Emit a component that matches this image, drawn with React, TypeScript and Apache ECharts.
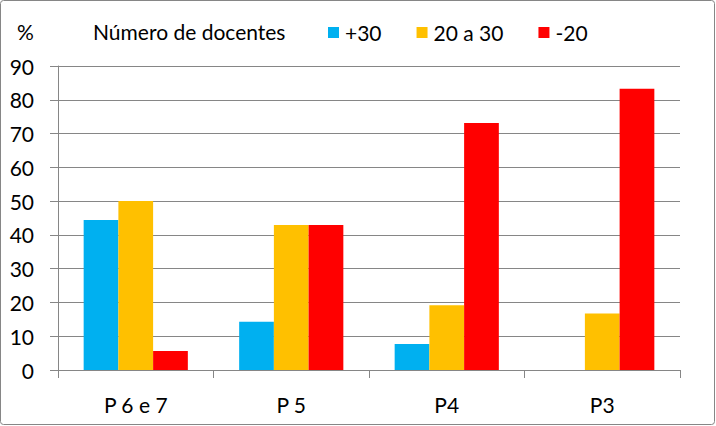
import React, { useEffect, useRef } from "react";
import * as echarts from "echarts";

const categories = ["P 6 e 7", "P 5", "P4", "P3"];
const seriesNames = ["+30", "20 a 30", "-20"];
const valuesPlus30 = [44.4, 14.3, 7.7, 0];
const values20a30 = [50.0, 42.9, 19.2, 16.7];
const valuesMinus20 = [5.6, 42.9, 73.1, 83.3];
const seriesColors = ["#00B0F0", "#FFC000", "#FF0000"];
const yTicks = { min: 0, max: 90, interval: 10 };

const FONT = "Lato, 'Noto Sans', sans-serif";
const GRAY = "#868686";
const FS = 21;

export default function App() {
  const ref = useRef<HTMLDivElement>(null);
  useEffect(() => {
    document.body.style.margin = "0";
    const chart = echarts.init(ref.current!, null, { renderer: "svg" });
    const data = [valuesPlus30, values20a30, valuesMinus20];
    chart.setOption({
      animation: false,
      backgroundColor: "#ffffff",
      textStyle: { fontFamily: FONT },
      grid: { left: 58, right: 36, top: 66, bottom: 56, containLabel: false },
      legend: {
        left: 328,
        top: 22,
        padding: 0,
        itemWidth: 11,
        itemHeight: 11,
        itemGap: 35,
        icon: "rect",
        data: seriesNames,
        textStyle: { fontSize: FS, color: "#000", fontFamily: FONT, padding: [0, 0, 0, 1] },
      },
      xAxis: {
        type: "category",
        data: categories,
        axisLine: { show: true, lineStyle: { color: GRAY, width: 1 } },
        axisTick: { show: true, length: 8, alignWithLabel: false, lineStyle: { color: GRAY } },
        axisLabel: { fontSize: FS, color: "#000", margin: 24, fontFamily: FONT },
      },
      yAxis: {
        type: "value",
        min: yTicks.min,
        max: yTicks.max,
        interval: yTicks.interval,
        axisLine: { show: true, lineStyle: { color: GRAY, width: 1 } },
        axisTick: { show: true, length: 8, lineStyle: { color: GRAY } },
        splitLine: { show: true, lineStyle: { color: GRAY, width: 1 } },
        axisLabel: { fontSize: FS, color: "#000", margin: 24, fontFamily: FONT },
      },
      series: seriesNames.map((name, i) => ({
        name,
        type: "bar",
        data: data[i],
        barGap: "0%",
        barCategoryGap: "33%",
        itemStyle: { color: seriesColors[i] },
      })),
      graphic: [
        {
          type: "rect",
          shape: { x: 0.5, y: 0.5, width: 714, height: 424, r: 3 },
          style: { fill: "none", stroke: GRAY, lineWidth: 1 },
          silent: true,
        },
        {
          type: "text",
          left: 17,
          top: 21,
          style: { text: "%", fontSize: FS, fill: "#000", fontFamily: FONT },
        },
        {
          type: "text",
          left: 93,
          top: 21,
          style: { text: "Número de docentes", fontSize: FS, fill: "#000", fontFamily: FONT },
        },
      ],
    });
    return () => chart.dispose();
  }, []);
  return <div ref={ref} style={{ position: "absolute", left: 0, top: 0, width: 716, height: 426 }} />;
}
